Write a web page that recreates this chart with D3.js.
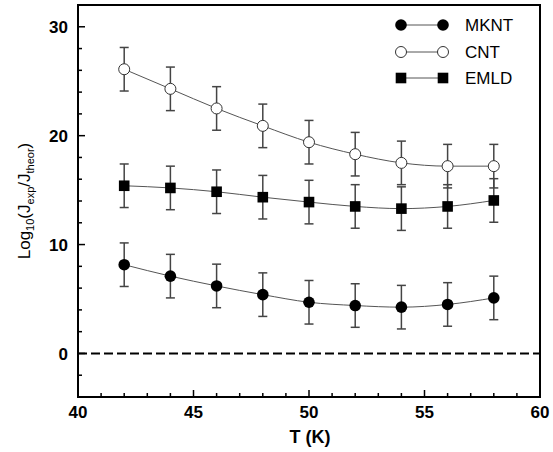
<!DOCTYPE html>
<html><head><meta charset="utf-8">
<script src="https://cdn.jsdelivr.net/npm/d3@7"></script>
<style>body{margin:0;background:#fff}svg{display:block}text{font-family:"Liberation Sans",Arial,sans-serif}</style>
</head><body><svg id="c" width="553" height="452"></svg>
<script>
const temps = [42,44,46,48,50,52,54,56,58];
const mknt = [8.15,7.1,6.2,5.4,4.7,4.4,4.25,4.5,5.1];
const cnt = [26.1,24.3,22.5,20.9,19.4,18.3,17.5,17.2,17.2];
const emld = [15.4,15.2,14.85,14.35,13.9,13.5,13.3,13.5,14.05];
const errs = [2,2,2,2,2,2,2,2,2];
const seriesNames = ["MKNT","CNT","EMLD"];
const xTicks = [40,45,50,55,60];
const yTicks = [0,10,20,30];

const svg = d3.select("#c");
const L=78,R=540,T=5,B=397;
const x = d3.scaleLinear().domain([40,60]).range([L,R]);
const y = d3.scaleLinear().domain([-4,32]).range([B,T]);

svg.append("rect").attr("x",L).attr("y",T).attr("width",R-L).attr("height",B-T)
  .attr("fill","none").attr("stroke","#000").attr("stroke-width",2);

const gx = svg.append("g").attr("transform",`translate(0,${B})`);
d3.range(41,60,1).forEach(v=>{
  gx.append("line").attr("x1",x(v)).attr("x2",x(v)).attr("y1",0).attr("y2",v%5===0?-7:-4)
    .attr("stroke","#000").attr("stroke-width",1.5);
});
xTicks.forEach(v=>{
  gx.append("text").attr("x",x(v)).attr("y",21).attr("text-anchor","middle")
    .attr("font-size",17).attr("font-weight","bold").text(v);
});
const gy = svg.append("g").attr("transform",`translate(${L},0)`);
d3.range(-2,32,2).forEach(v=>{
  gy.append("line").attr("y1",y(v)).attr("y2",y(v)).attr("x1",0).attr("x2",v%10===0?7:4)
    .attr("stroke","#000").attr("stroke-width",1.5);
});
yTicks.forEach(v=>{
  gy.append("text").attr("x",-10).attr("y",y(v)).attr("dy","0.36em").attr("text-anchor","end")
    .attr("font-size",17).attr("font-weight","bold").text(v);
});

svg.append("text").attr("x",310).attr("y",443).attr("text-anchor","middle")
  .attr("font-size",18).attr("font-weight","bold").text("T (K)");
const yl = svg.append("text").attr("transform","translate(30,201) rotate(-90)")
  .attr("text-anchor","middle").attr("font-size",17);
yl.append("tspan").text("Log");
yl.append("tspan").attr("font-size",11).attr("dy",4).text("10");
yl.append("tspan").attr("dy",-4).text("(J");
yl.append("tspan").attr("font-size",11).attr("dy",4).text("exp");
yl.append("tspan").attr("dy",-4).text("/J");
yl.append("tspan").attr("font-size",11).attr("dy",4).text("theor");
yl.append("tspan").attr("dy",-4).text(")");

svg.append("line").attr("x1",L).attr("x2",R).attr("y1",y(0)).attr("y2",y(0))
  .attr("stroke","#000").attr("stroke-width",2).attr("stroke-dasharray","9,4");

const data = [mknt,cnt,emld];
const line = d3.line().x((d,i)=>x(temps[i])).y(d=>y(d)).curve(d3.curveMonotoneX);

function drawMarker(g,si,cx,cy){
  if(si===0) g.append("circle").attr("cx",cx).attr("cy",cy).attr("r",5.8).attr("fill","#000");
  else if(si===1) g.append("circle").attr("cx",cx).attr("cy",cy).attr("r",5.5).attr("fill","#fff").attr("stroke","#333").attr("stroke-width",1);
  else g.append("rect").attr("x",cx-5.3).attr("y",cy-5.3).attr("width",10.6).attr("height",10.6).attr("fill","#000");
}

data.forEach((vals,si)=>{
  const g = svg.append("g");
  g.append("path").attr("d",line(vals)).attr("fill","none").attr("stroke","#555").attr("stroke-width",1);
  vals.forEach((v,i)=>{
    const cx = x(temps[i]);
    g.append("line").attr("x1",cx).attr("x2",cx).attr("y1",y(v+errs[i])).attr("y2",y(v-errs[i]))
      .attr("stroke","#444").attr("stroke-width",1.5);
    [v+errs[i],v-errs[i]].forEach(e=>{
      g.append("line").attr("x1",cx-4.5).attr("x2",cx+4.5).attr("y1",y(e)).attr("y2",y(e))
        .attr("stroke","#444").attr("stroke-width",1.5);
    });
  });
  vals.forEach((v,i)=>drawMarker(g,si,x(temps[i]),y(v)));
});

const legY=[25,52,78];
seriesNames.forEach((n,i)=>{
  const g=svg.append("g");
  g.append("line").attr("x1",401).attr("x2",443).attr("y1",legY[i]).attr("y2",legY[i]).attr("stroke","#555").attr("stroke-width",1);
  drawMarker(g,i,401,legY[i]);
  drawMarker(g,i,443,legY[i]);
  g.append("text").attr("x",465).attr("y",legY[i]).attr("dy","0.36em").attr("font-size",17).text(n);
});
</script></body></html>
